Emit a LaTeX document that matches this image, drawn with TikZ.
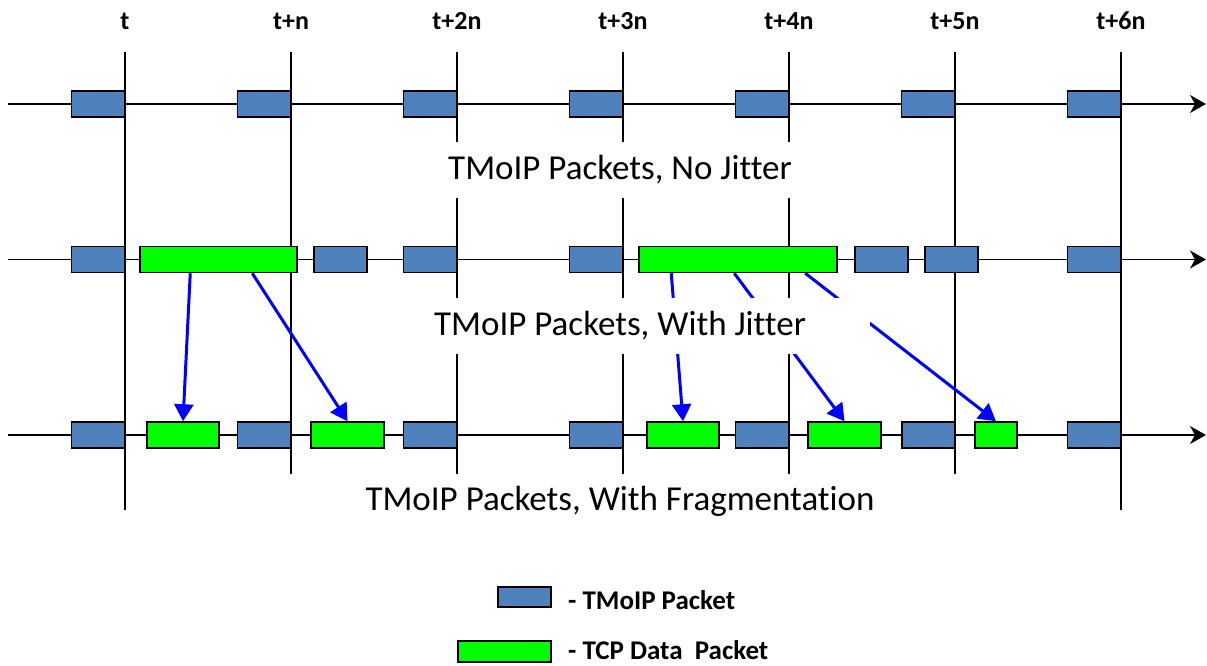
\documentclass[tikz,border=0pt]{standalone}
\usepackage{fontspec}
\setmainfont[Ligatures={NoCommon,NoRequired,NoContextual,NoRare,NoDiscretionary}]{Carlito}
\usetikzlibrary{arrows.meta}
\definecolor{tmblue}{RGB}{79,129,189}
\definecolor{tcpgreen}{RGB}{0,255,0}
\definecolor{arrblue}{RGB}{0,0,255}
\tikzset{
  tm/.style={rectangle, draw=black, fill=tmblue, line width=1.5pt, minimum width=53pt, minimum height=26pt, inner sep=0pt},
  tcp/.style={rectangle, draw=black, fill=tcpgreen, line width=1.5pt, minimum height=26pt, inner sep=0pt},
  tline/.style={line width=1.5pt, -{Stealth[length=16pt,width=18pt,inset=5pt]}},
  vline/.style={line width=2pt},
  farr/.style={draw=arrblue, line width=3pt, -{Triangle[length=17pt,width=19pt]}},
  tick/.style={font=\fontsize{26}{30}\selectfont\bfseries, inner sep=0pt},
  caption/.style={fill=white, minimum height=56pt, inner sep=0pt, font=\fontsize{35}{40}\selectfont},
  legtext/.style={anchor=west, inner sep=0pt, font=\fontsize{27}{31}\selectfont\bfseries},
}
\begin{document}
\begin{tikzpicture}[x=1pt,y=-1pt]
\useasboundingbox (0,0) rectangle (1207,665);
% vertical time lines
\foreach \i/\lab in {0/t,1/t+n,2/t+2n,3/t+3n,4/t+4n,5/t+5n,6/t+6n}{
  \coordinate (top\i) at (125+166*\i,52);
  \coordinate (bot\i) at (125+166*\i,510);
  \draw[vline] (top\i) -- (bot\i);
  \node[tick] (lab\i) at (125+166*\i,21) {\lab};
}
% timelines
\coordinate (s1) at (8,104);   \coordinate (e1) at (1206,104);
\coordinate (s2) at (8,259.5); \coordinate (e2) at (1206,259.5);
\coordinate (s3) at (8,435);   \coordinate (e3) at (1206,435);
\draw[tline] (s1) -- (e1);
\draw[tline] (s2) -- (e2);
\draw[tline] (s3) -- (e3);
% row 1: no jitter
\foreach \i in {0,...,6}{
  \node[tm, anchor=east] (a\i) at (125+166*\i,104) {};
}
% row 2: with jitter
\node[tm, anchor=east] (b1) at (125,259.5) {};
\node[tcp, minimum width=157pt] (g1) at (218.5,259.5) {};
\node[tm] (b2) at (340.5,259.5) {};
\node[tm, anchor=east] (b3) at (457,259.5) {};
\node[tm, anchor=east] (b4) at (623,259.5) {};
\node[tcp, minimum width=198pt] (g2) at (738,259.5) {};
\node[tm] (b5) at (881.5,259.5) {};
\node[tm] (b6) at (951.5,259.5) {};
\node[tm, anchor=east] (b7) at (1121,259.5) {};
% row 3: with fragmentation
\node[tm, anchor=east] (c1) at (125,435) {};
\node[tcp, minimum width=72pt] (f1) at (183,435) {};
\node[tm, anchor=east] (c2) at (291,435) {};
\node[tcp, minimum width=73pt] (f2) at (347.5,435) {};
\node[tm, anchor=east] (c3) at (457,435) {};
\node[tm, anchor=east] (c4) at (623,435) {};
\node[tcp, minimum width=72pt] (f3) at (683,435) {};
\node[tm, anchor=east] (c5) at (789,435) {};
\node[tcp, minimum width=73pt] (f4) at (844.5,435) {};
\node[tm] (c6) at (928.5,435) {};
\node[tcp, minimum width=42pt] (f5) at (996,435) {};
\node[tm, anchor=east] (c7) at (1121,435) {};
% fragmentation arrows
\draw[farr] ([xshift=51pt]g1.south west) -- (f1.north);
\draw[farr] ([xshift=113pt]g1.south west) -- (f2.north);
\draw[farr] ([xshift=33pt]g2.south west) -- (f3.north);
\draw[farr] ([xshift=96pt]g2.south west) -- (f4.north);
\draw[farr] ([xshift=167pt]g2.south west) -- (f5.north);
% captions
\node[caption, minimum width=500pt] (cap1) at (620,169.5) {TMoIP Packets, No Jitter};
\node[caption, minimum width=500pt] (cap2) at (620,326) {TMoIP Packets, With Jitter};
\node[caption, minimum width=840pt] (cap3) at (620,501.5) {TMoIP Packets, With Fragmentation};
% legend
\node[tm, minimum height=20pt] (legb) at (524.5,597) {};
\node[tcp, minimum width=93pt, minimum height=21pt] (legg) at (504.5,651.5) {};
\node[legtext] (legbt) at (568,600) {- TMoIP Packet};
\node[legtext] (leggt) at (568,650) {- TCP Data\ \ Packet};
\end{tikzpicture}
\end{document}
